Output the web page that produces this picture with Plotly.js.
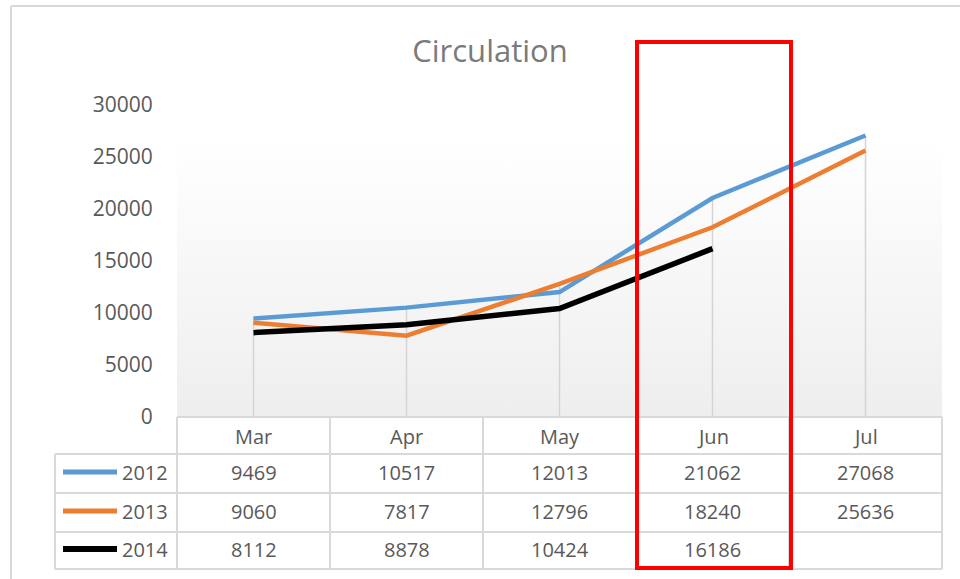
<!DOCTYPE html>
<html><head><meta charset="utf-8">
<script src="https://cdn.plot.ly/plotly-3.0.1.min.js"></script>
<style>html,body{margin:0;padding:0;background:#fff;}#chart{width:960px;height:579px;}</style>
</head><body><div id="chart"></div>
<script>
const months = ['Mar','Apr','May','Jun','Jul'];
const seriesNames = ['2012','2013','2014'];
const v2012 = [9469,10517,12013,21062,27068];
const v2013 = [9060,7817,12796,18240,25636];
const v2014 = [8112,8878,10424,16186,null];
const yTicks = [0,5000,10000,15000,20000,25000,30000];

const series = [v2012, v2013, v2014];
const colors = ['#5B9BD5','#ED7D31','#000000'];
const widths = [4.5,4.5,5.5];
const FONT = 'Open Sans, sans-serif';
const TXT = '#595959';

const W=960,H=579,L=177,R=942,T=105,B=417;
const px = x => (x-L)/(R-L);
const py = y => (B-y)/(B-T);

// drop lines
const dx=[], dy=[];
months.forEach((m,i)=>{
  const vals = series.map(s=>s[i]).filter(v=>v!=null);
  dx.push(m,m,null); dy.push(0, Math.max(...vals), null);
});
const traces = [{x:dx,y:dy,mode:'lines',line:{color:'#d4d4d4',width:1.5},hoverinfo:'skip',showlegend:false}];
series.forEach((s,k)=>traces.push({x:months,y:s,name:seriesNames[k],mode:'lines',
  line:{color:colors[k],width:widths[k]},showlegend:false,connectgaps:false}));

const shapes=[], annotations=[];
const gl = {color:'#d9d9d9',width:2};
// table horizontal lines
shapes.push({type:'line',xref:'paper',yref:'paper',x0:0,x1:1,y0:py(417),y1:py(417),line:gl});
[454,493,532,569].forEach(y=>shapes.push({type:'line',xref:'paper',yref:'paper',x0:px(55),x1:1,y0:py(y),y1:py(y),line:gl}));
// vertical lines
shapes.push({type:'line',xref:'paper',yref:'paper',x0:px(55),x1:px(55),y0:py(454),y1:py(569),line:gl});
for(let k=0;k<=months.length;k++){
  const xp=k/months.length;
  shapes.push({type:'line',xref:'paper',yref:'paper',x0:xp,x1:xp,y0:py(417),y1:py(569),line:gl});
}
const rowY=[472,511,549];
// legend keys + labels
seriesNames.forEach((n,k)=>{
  shapes.push({type:'line',xref:'paper',yref:'paper',x0:px(63),x1:px(117),y0:py(rowY[k]),y1:py(rowY[k]),line:{color:colors[k],width:widths[k]+0.5}});
  annotations.push({xref:'paper',yref:'paper',x:px(120),y:py(rowY[k]),xanchor:'left',yanchor:'middle',text:n,showarrow:false,font:{family:FONT,size:20,color:TXT}});
});
// header + values
months.forEach((m,i)=>{
  const xc=(i+0.5)/months.length;
  annotations.push({xref:'paper',yref:'paper',x:xc,y:py(436),text:m,showarrow:false,xanchor:'center',yanchor:'middle',font:{family:FONT,size:20,color:TXT}});
  series.forEach((s,k)=>{
    if(s[i]!=null) annotations.push({xref:'paper',yref:'paper',x:xc,y:py(rowY[k]),text:String(s[i]),showarrow:false,xanchor:'center',yanchor:'middle',font:{family:FONT,size:20,color:TXT}});
  });
});
// outer border
shapes.push({type:'line',xref:'paper',yref:'paper',x0:px(11),x1:px(11),y0:py(6),y1:py(590),line:{color:'#d9d9d9',width:2}});
shapes.push({type:'line',xref:'paper',yref:'paper',x0:px(11),x1:px(965),y0:py(6),y1:py(6),line:{color:'#d9d9d9',width:2}});
// red highlight box
shapes.push({type:'rect',xref:'paper',yref:'paper',x0:px(637),x1:px(791),y0:py(568),y1:py(42),line:{color:'#ff0000',width:4},fillcolor:'rgba(0,0,0,0)',layer:'above'});

const svg = '<svg xmlns="http://www.w3.org/2000/svg" width="100" height="100" preserveAspectRatio="none"><defs><linearGradient id="g" x1="0" y1="0" x2="0" y2="1"><stop offset="0" stop-color="#ffffff"/><stop offset="1" stop-color="#eeeeee"/></linearGradient></defs><rect width="100" height="100" fill="url(#g)"/></svg>';

const layout = {
  width:W,height:H,
  margin:{l:L,r:W-R,t:T,b:H-B,pad:0},
  paper_bgcolor:'#ffffff',plot_bgcolor:'rgba(0,0,0,0)',
  title:{text:'Circulation',font:{family:FONT,size:31,color:'#7a7a7a'},x:490/W,xref:'container',xanchor:'center',y:1-51/H,yref:'container',yanchor:'middle'},
  xaxis:{type:'category',categoryarray:months,range:[-0.5,4.5],showticklabels:false,showgrid:false,zeroline:false,showline:false,ticks:''},
  yaxis:{range:[0,30000],tickvals:yTicks,ticktext:yTicks.map(String),showgrid:false,zeroline:false,showline:false,
    ticks:'outside',ticklen:19,tickcolor:'rgba(0,0,0,0)',tickfont:{family:FONT,size:21,color:TXT}},
  images:[{source:'data:image/svg+xml;utf8,'+encodeURIComponent(svg),xref:'paper',yref:'paper',x:0,y:py(140),sizex:1,sizey:py(140),sizing:'stretch',xanchor:'left',yanchor:'top',layer:'below'}],
  shapes:shapes,annotations:annotations,showlegend:false
};
Plotly.newPlot('chart',traces,layout,{displayModeBar:false,staticPlot:true});
</script></body></html>
